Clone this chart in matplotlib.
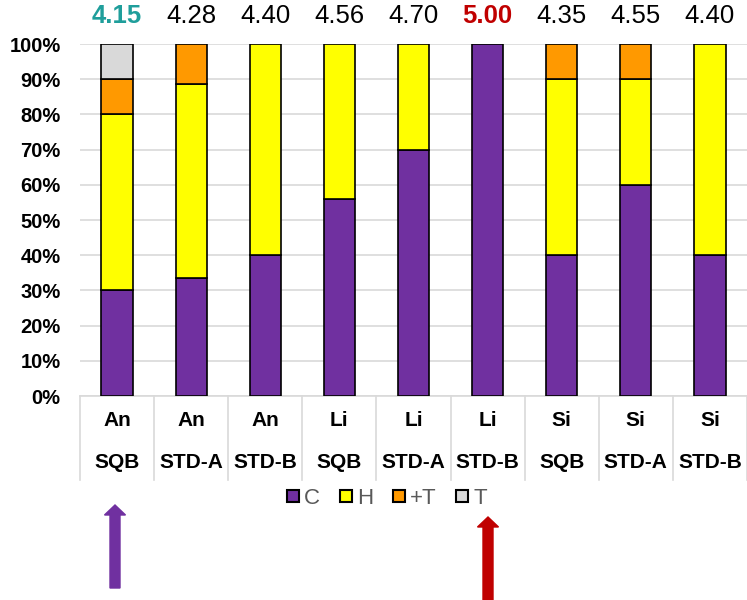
import matplotlib.pyplot as plt
from matplotlib.patches import FancyArrow
from matplotlib.lines import Line2D
import matplotlib.transforms as mtransforms

plt.rcParams['font.family'] = ['Liberation Sans', 'DejaVu Sans']

groups = ["An", "An", "An", "Li", "Li", "Li", "Si", "Si", "Si"]
methods = ["SQB", "STD-A", "STD-B", "SQB", "STD-A", "STD-B", "SQB", "STD-A", "STD-B"]
scores = ["4.15", "4.28", "4.40", "4.56", "4.70", "5.00", "4.35", "4.55", "4.40"]
score_colors = ["#1f9e9b", "black", "black", "black", "black", "#c00000", "black", "black", "black"]
score_bold = [True, False, False, False, False, True, False, False, False]

c_vals = [30, 33.5, 40, 56, 70, 100, 40, 60, 40]
h_vals = [50, 55, 60, 44, 30, 0, 50, 30, 60]
pt_vals = [10, 11.5, 0, 0, 0, 0, 10, 10, 0]
t_vals = [10, 0, 0, 0, 0, 0, 0, 0, 0]

series = [("C", c_vals, "#7030a0"), ("H", h_vals, "#ffff00"),
          ("+T", pt_vals, "#ff9900"), ("T", t_vals, "#d9d9d9")]

fig = plt.figure(figsize=(7.47, 6), dpi=100)
ax = fig.add_axes([80 / 747, 1 - 396 / 600, 667 / 747, 352 / 600])

x = list(range(len(groups)))
bottom = [0] * len(groups)
for name, vals, col in series:
    for i, v in enumerate(vals):
        if v > 0:
            ax.bar(i, v, 0.42, bottom=bottom[i], color=col, edgecolor="black", linewidth=1.2, zorder=3)
    bottom = [b + v for b, v in zip(bottom, vals)]

ax.set_xlim(-0.5, len(groups) - 0.5)
ax.set_ylim(0, 100)
ax.set_yticks(range(0, 101, 10))
ax.set_yticklabels([f"{t}%" for t in range(0, 101, 10)], fontsize=14.5, fontweight="bold")
ax.yaxis.grid(True, color="#d9d9d9", linewidth=1.2, zorder=0)
ax.tick_params(axis="y", length=0, pad=14)
ax.tick_params(axis="x", length=0, labelbottom=False)
for s in ax.spines.values():
    s.set_visible(False)

trans = mtransforms.blended_transform_factory(ax.transData, ax.transAxes)
ax.plot([-0.5, len(groups) - 0.5], [0, 0], transform=trans, color="#d9d9d9", lw=1.2, clip_on=False)
for i in range(len(groups) + 1):
    ax.plot([i - 0.5, i - 0.5], [0, -0.239], transform=trans, color="#d9d9d9", lw=1.2, clip_on=False)

for i in x:
    ax.text(i, -0.071, groups[i], transform=trans, ha="center", va="center", fontsize=15, fontweight="bold")
    ax.text(i, -0.1875, methods[i], transform=trans, ha="center", va="center", fontsize=15, fontweight="bold")
    ax.text(i, 1.08, scores[i], transform=trans, ha="center", va="center", fontsize=18.5,
            color=score_colors[i], fontweight="bold" if score_bold[i] else "normal")

handles = [Line2D([], [], marker="s", linestyle="none", markersize=9, markerfacecolor=col,
                  markeredgecolor="black", markeredgewidth=1.5) for _, _, col in series]
leg = fig.legend(handles, [n for n, _, _ in series], loc="center", bbox_to_anchor=(386 / 747, 1 - 498 / 600),
                 ncol=4, frameon=False, fontsize=16, handlelength=0.7, handletextpad=0.15, columnspacing=0.8)
for t in leg.get_texts():
    t.set_color("#595959")

fig.add_artist(FancyArrow(1.15, 0.12, 0, 0.73, width=0.10, head_width=0.21, head_length=0.10,
                          length_includes_head=False, color="#7030a0", transform=fig.dpi_scale_trans))
fig.add_artist(FancyArrow(4.88, -0.02, 0, 0.75, width=0.10, head_width=0.21, head_length=0.10,
                          length_includes_head=False, color="#c00000", transform=fig.dpi_scale_trans))

fig.savefig("out.png", dpi=100)
